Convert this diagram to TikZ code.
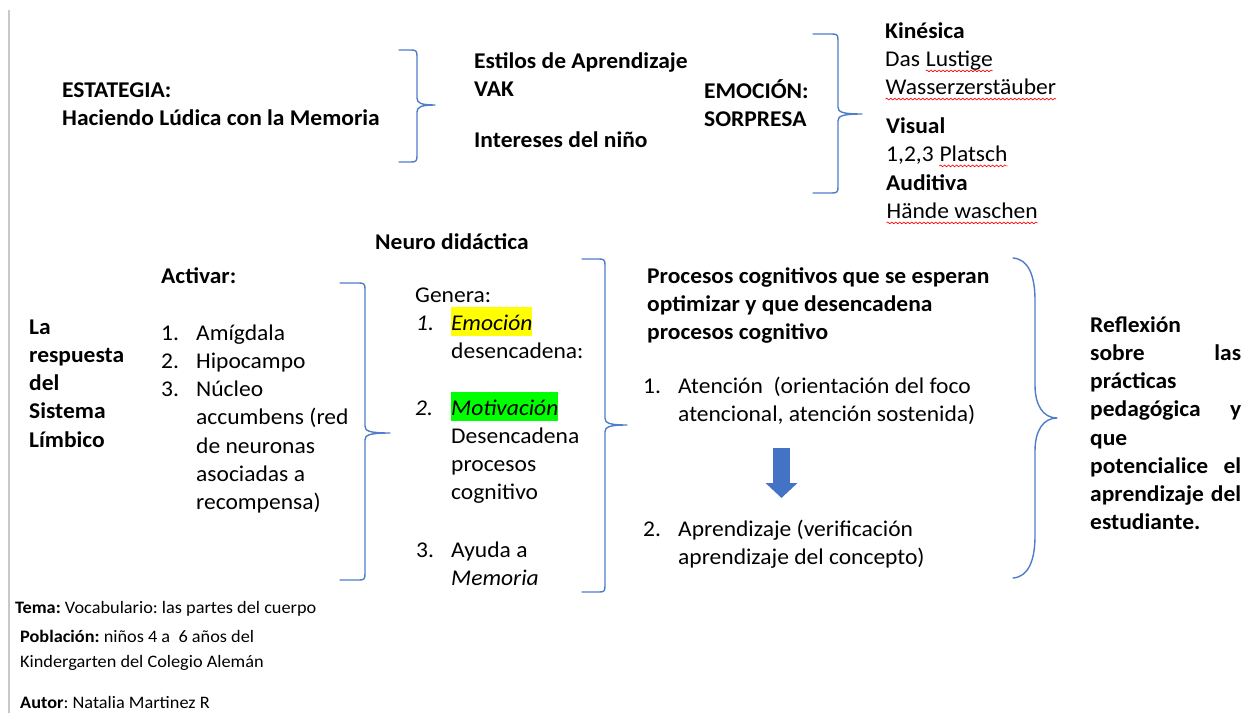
\documentclass[tikz,border=0pt]{standalone}
\usepackage{fontspec}
\setmainfont{Carlito}[FakeStretch=1.045]
\frenchspacing
\usetikzlibrary{arrows.meta,decorations.pathmorphing}
\definecolor{braceblue}{RGB}{79,125,200}
\definecolor{arrowblue}{RGB}{68,114,196}
\definecolor{hlyellow}{RGB}{255,255,0}
\definecolor{hlgreen}{RGB}{0,255,0}
\definecolor{edgegray}{RGB}{200,200,200}
\newcommand\tstrut{\rule{0pt}{24pt}}
\newcommand\sstrut{\rule{0pt}{18pt}}
\newcommand\hly[1]{{\setlength\fboxsep{0pt}\colorbox{hlyellow}{\rule[-5.5pt]{0pt}{28.5pt}#1}}}
\newcommand\hlg[1]{{\setlength\fboxsep{0pt}\colorbox{hlgreen}{\rule[-6pt]{0pt}{29pt}#1}}}
\newcommand\wavy[1]{\tikz[baseline=(wv.base)]{\node[inner sep=0pt,anchor=base west] (wv) at (0,0) {#1};\draw[red,line width=0.6pt,decorate,decoration={snake,amplitude=0.9pt,segment length=4pt}] ([yshift=-4.5pt]wv.base west) -- ([yshift=-4.5pt]wv.base east);}}
% brace: x0, xv, xtip, top, mid, bottom
\newcommand\wordbrace[6]{%
  \draw[bracestyle] (#1,#4) -- ({#2-6},#4) .. controls ({#2-1},#4) and (#2,{#4+1}) .. (#2,{#4+6})
    -- (#2,{#5-7}) .. controls (#2,{#5-2}) and ({#2+4},#5) .. (#3,#5)
    .. controls ({#2+4},#5) and (#2,{#5+2}) .. (#2,{#5+7})
    -- (#2,{#6-6}) .. controls (#2,{#6-1}) and ({#2-1},#6) .. ({#2-6},#6) -- (#1,#6);}
\tikzset{
  txt/.style={anchor=north west,inner sep=0pt,align=left,font=\fontsize{22.5}{28.2}\selectfont},
  btxt/.style={txt,font=\fontsize{22.5}{28.2}\selectfont\bfseries},
  stxt/.style={anchor=north west,inner sep=0pt,align=left,font=\fontsize{17.5}{25}\selectfont},
  bracestyle/.style={draw=braceblue,line width=1.4pt,line join=round,line cap=round},
}
\begin{document}
\begin{tikzpicture}[x=1pt,y=-1pt]
\useasboundingbox (0,0) rectangle (1243,713);
\fill[white] (0,0) rectangle (1243,713);
% left gray rule
\draw[edgegray,line width=1.5pt] (9,10) -- (9,713);

% ---------- top row ----------
\node[btxt] (estrategia) at (62,{97-24}) {\tstrut ESTATEGIA:\\Haciendo Lúdica con la Memoria};
\wordbrace{399}{417}{435}{50}{105}{162}
\node[btxt] (estilos) at (474,{68-24}) {\tstrut Estilos de Aprendizaje\\VAK};
\node[btxt] (intereses) at (474,{147-24}) {\tstrut Intereses del niño};
\node[btxt] (emocion) at (704,{98-24}) {\tstrut EMOCIÓN:\\SORPRESA};
\wordbrace{813}{838}{862}{34}{114}{193}
\node[txt] (kinesica) at (885,{38-24}) {\tstrut\textbf{Kinésica}\\Das \wavy{Lustige}\\\wavy{Wasserzerstäuber}};
\node[txt] (visual) at (886,{133-24}) {\tstrut\textbf{Visual}\\1,2,3 \wavy{Platsch}};
\node[txt] (auditiva) at (886,{190-24}) {\tstrut\textbf{Auditiva}\\\wavy{Hände waschen}};

% ---------- middle row ----------
\node[btxt] (neuro) at (375,{249-24}) {\tstrut Neuro didáctica};
\node[btxt] (activar) at (161,{283-24}) {\tstrut Activar:};
\node[btxt] (limbico) at (29,{334-24}) {\tstrut La\\respuesta\\del\\Sistema\\Límbico};
\node[txt] (actnum) at (161,{340-24}) {\tstrut 1.\\2.\\3.};
\node[txt] (actlist) at (196,{340-24}) {\tstrut Amígdala\\Hipocampo\\Núcleo\\accumbens (red\\de neuronas\\asociadas a\\recompensa)};
\wordbrace{340}{365}{390}{283}{433}{580}

\node[txt] (genera) at (415,{302-24}) {\tstrut Genera:};
\node[txt] (gnum1) at (416,{330-24}) {\tstrut\textit{1.}};
\node[txt] (gitem1) at (451,{330-24}) {\tstrut\hly{\textit{Emoción}}\\desencadena:};
\node[txt] (gnum2) at (415,{415-24}) {\tstrut\textit{2.}};
\node[txt] (gitem2) at (451,{415-24}) {\tstrut\hlg{\textit{Motivación}}\\Desencadena\\procesos\\cognitivo};
\node[txt] (gnum3) at (416,{557-24}) {\tstrut 3.};
\node[txt] (gitem3) at (451,{557-24}) {\tstrut Ayuda a\\\textit{Memoria}};
\wordbrace{582}{605}{627}{259}{425}{592}

\node[btxt] (procesos) at (647,{283-24}) {\tstrut Procesos cognitivos que se esperan\\optimizar y que desencadena\\procesos cognitivo};
\node[txt] (pnum1) at (643,{393-24}) {\tstrut 1.};
\node[txt] (atencion) at (678,{393-24}) {\tstrut Atención\ \ (orientación del foco\\atencional, atención sostenida)};
\node[txt] (pnum2) at (643,{536-24}) {\tstrut 2.};
\node[txt] (aprendizaje) at (678,{536-24}) {\tstrut Aprendizaje (verificación\\aprendizaje del concepto)};
\coordinate (arrtop) at (781.5,448);
\coordinate (arrtip) at (781.5,498);
\draw[arrowblue,line width=17pt,-{Triangle[width=31pt,length=15pt]}] (arrtop) -- (arrtip);

% big right brace
\draw[bracestyle] (1013,258) .. controls (1028,259) and (1035,275) .. (1035,300)
  -- (1035,385) .. controls (1035,405) and (1043,418) .. (1057,418)
  .. controls (1043,418) and (1035,431) .. (1035,451)
  -- (1035,536) .. controls (1035,561) and (1028,577) .. (1013,578);
\node[btxt] (reflexion) at (1090,{332-24}) {\tstrut Reflexión\\\hbox to 151pt{sobre\hfill las}\\prácticas\\\hbox to 151pt{pedagógica\hfill y}\\que\\\hbox to 151pt{potencialice\hfill el}\\\hbox to 151pt{aprendizaje\hfill del}\\estudiante.};

% ---------- bottom notes ----------
\node[stxt] (tema) at (15,{613-18}) {\sstrut\textbf{Tema:} Vocabulario: las partes del cuerpo};
\node[stxt] (poblacion) at (20,{642-18}) {\sstrut\textbf{Población:} niños 4 a\ \ 6 años del\\Kindergarten del Colegio Alemán};
\node[stxt] (autor) at (20,{708-18}) {\sstrut\textbf{Autor}: Natalia Martinez R};
\end{tikzpicture}
\end{document}
